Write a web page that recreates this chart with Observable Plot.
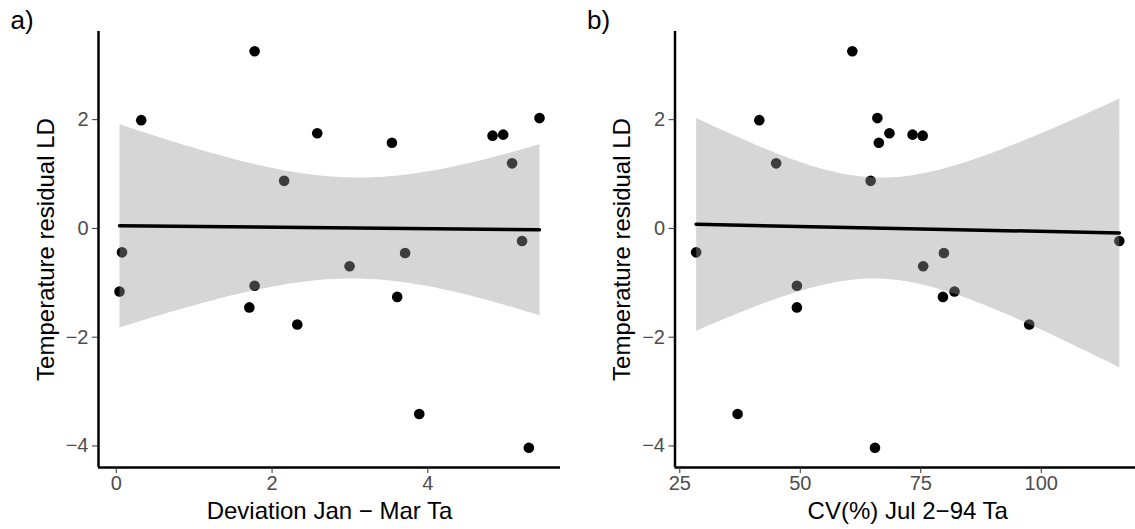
<!DOCTYPE html>
<html><head><meta charset="utf-8">
<script src="https://cdn.jsdelivr.net/npm/d3@7"></script>
<script src="https://cdn.jsdelivr.net/npm/@observablehq/plot@0.6"></script>
<style>
html,body{margin:0;padding:0;background:#fff;overflow:hidden}
#wrap{position:relative;width:1135px;height:529px;overflow:hidden;background:#fff}
.panel{position:absolute;top:0}
</style></head><body>
<div id="wrap"></div>
<script>
// Temperature residual LD (shared y values)
const residual = [3.257, 1.991, 1.749, 1.576, 1.706, 1.725, 2.029, 1.197, 0.875, -0.440,
                  -1.160, -1.055, -1.452, -1.768, -0.695, -0.453, -1.259, -0.230, -3.412, -4.032];
// a) Deviation Jan − Mar Ta
const devJanMar = [1.776, 0.320, 2.580, 3.539, 4.831, 4.968, 5.434, 5.082, 2.155, 0.073,
                   0.041, 1.776, 1.708, 2.324, 2.995, 3.708, 3.607, 5.210, 3.890, 5.297];
// b) CV(%) Jul 2−94 Ta
const cvJul = [60.8, 41.5, 68.5, 66.3, 75.4, 73.3, 66.0, 45.0, 64.6, 28.4,
               82.0, 49.3, 49.3, 97.5, 75.5, 79.8, 79.6, 116.2, 37.0, 65.5];

const yTicks = [-4, -2, 0, 2];
const xTicksA = [0, 2, 4];
const xTicksB = [25, 50, 75, 100];
const panelTags = ["a)", "b)"];
const xTitles = ["Deviation Jan \u2212 Mar Ta", "CV(%) Jul 2\u221294 Ta"];
const yTitle = "Temperature residual LD";

const FONT = '"Liberation Sans", Arial, sans-serif';
const fmt = d => String(d).replace("-", "\u2212");

function expand(vals) {
  const [lo, hi] = d3.extent(vals);
  const p = (hi - lo) * 0.05;
  return [lo - p, hi + p];
}

function panel(xs, xTicks, xTitle, tag, layout) {
  const data = xs.map((x, i) => ({x, y: residual[i]}));
  const xd = expand(xs), yd = expand(residual);
  const chart = Plot.plot({
    width: layout.width, height: 529,
    marginLeft: layout.marginLeft, marginRight: 0, marginTop: 31, marginBottom: 62,
    x: {domain: xd}, y: {domain: yd},
    style: {fontFamily: FONT, background: "transparent", overflow: "visible", color: "black"},
    marks: [
      Plot.dot(data, {x: "x", y: "y", r: 5.3, fill: "black", stroke: null}),
      Plot.linearRegressionY(data, {x: "x", y: "y", ci: 0.95, stroke: "black", strokeWidth: 3.5,
                                    fill: "#999999", fillOpacity: 0.4}),
      Plot.ruleX([xd[0]], {stroke: "black", strokeWidth: 2.5}),
      Plot.ruleY([yd[0]], {stroke: "black", strokeWidth: 2.5}),
      Plot.axisX(xTicks, {tickSize: 6, tickPadding: 2, fontSize: 20, stroke: "#333333", fill: "#4d4d4d", label: null, tickFormat: fmt}),
      Plot.axisY(yTicks, {tickSize: 6, tickPadding: 4, fontSize: 20, stroke: "#333333", fill: "#4d4d4d", label: null, tickFormat: fmt}),
      Plot.text([xTitle], {frameAnchor: "bottom", dy: 43.5, lineAnchor: "middle", textAnchor: "middle", fontSize: 24, fill: "black"}),
      Plot.text([yTitle], {frameAnchor: "left", dx: layout.titleDx, rotate: -90, lineAnchor: "middle", textAnchor: "middle", fontSize: 24, fill: "black"}),
      Plot.text([tag], {frameAnchor: "top-left", dx: -88, dy: -3, textAnchor: "start", lineAnchor: "bottom", fontSize: 26, fill: "black"})
    ]
  });
  chart.classList.add("panel");
  chart.style.left = layout.left + "px";
  return chart;
}

const wrap = document.getElementById("wrap");
wrap.appendChild(panel(devJanMar, xTicksA, xTitles[0], panelTags[0], {left: 0, width: 560, marginLeft: 98, titleDx: -52}));
wrap.appendChild(panel(cvJul, xTicksB, xTitles[1], panelTags[1], {left: 568, width: 572, marginLeft: 106.5, titleDx: -53}));
</script>
</body></html>
